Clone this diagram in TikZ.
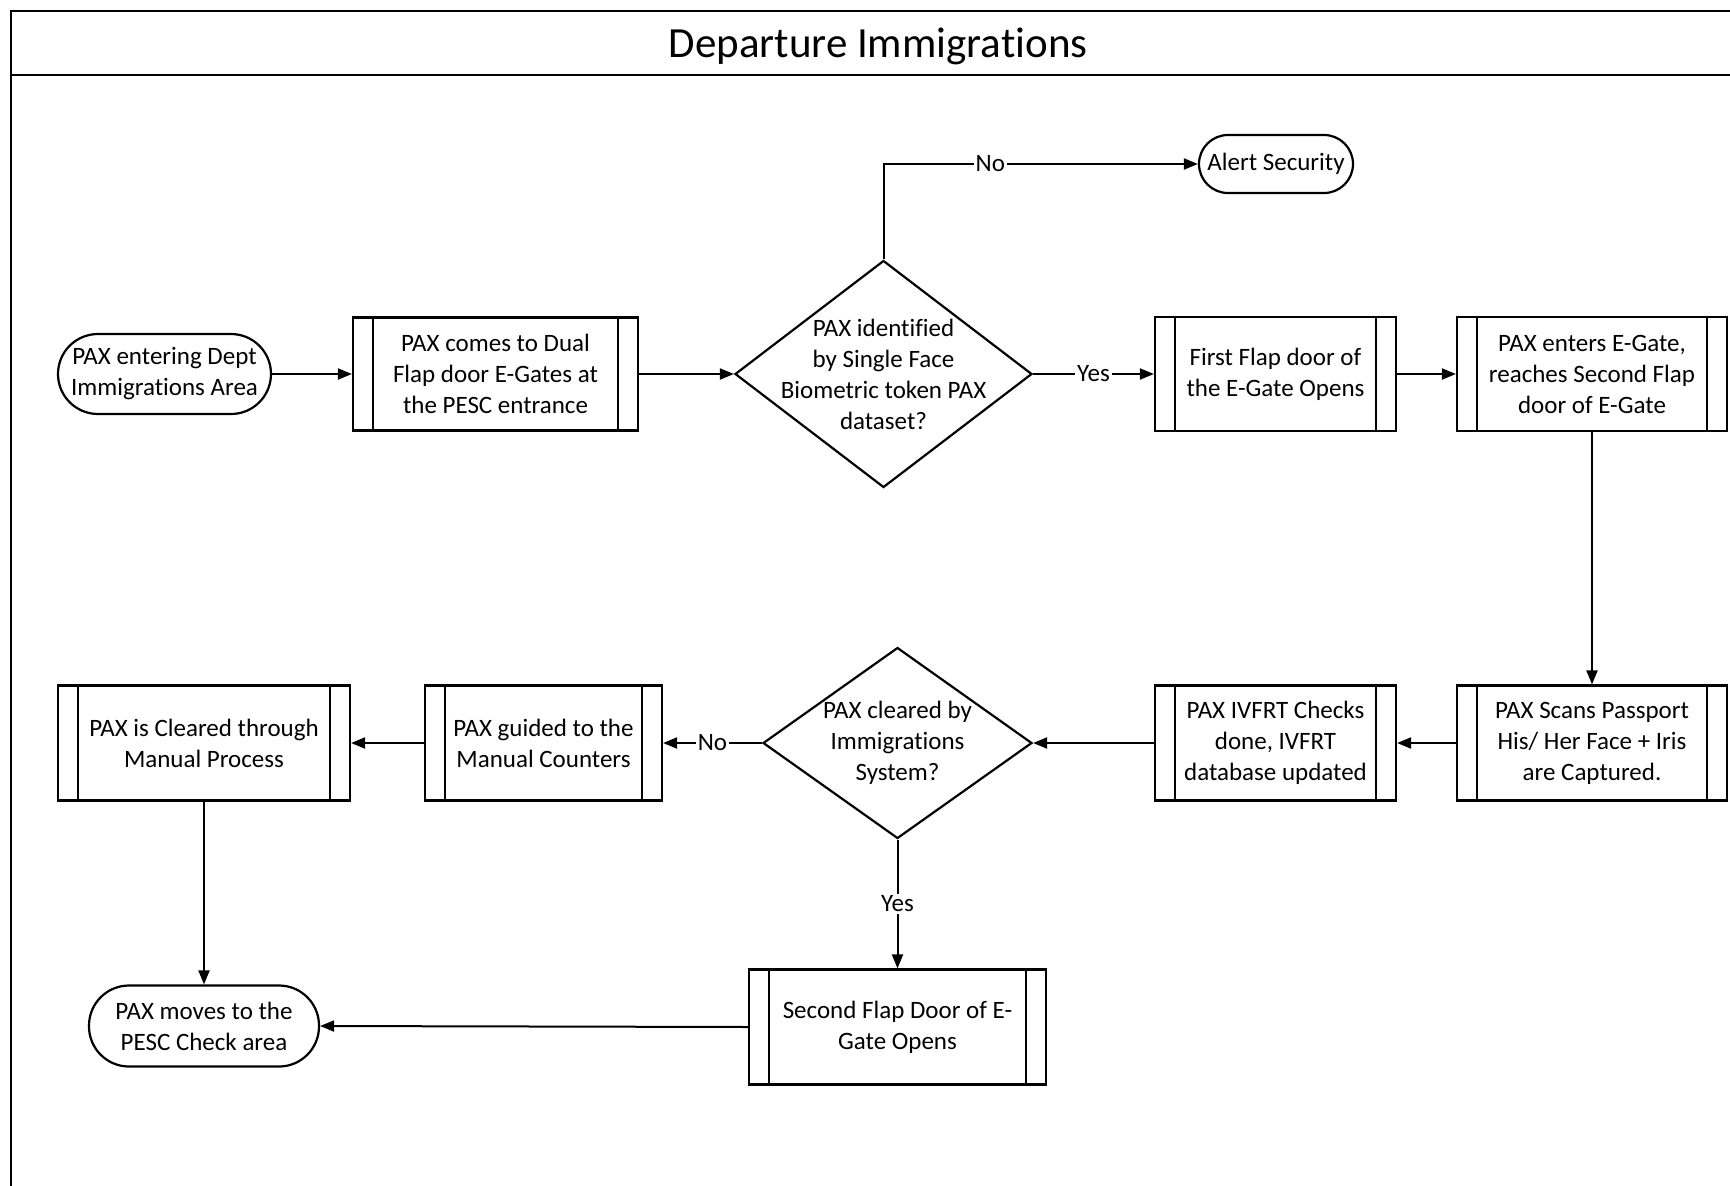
\documentclass[tikz,border=0pt]{standalone}
\usepackage{fontspec}
\setmainfont[RawFeature={-liga;-clig;-dlig;-calt}]{Carlito}
\usetikzlibrary{shapes.geometric,arrows.meta}

\tikzset{
  body/.style={font=\fontsize{25}{31}\selectfont, align=center},
  frameline/.style={line width=2.8pt},
  proc/.style={body, draw, line width=2.2pt, inner sep=0pt,
    path picture={
      \draw[line width=1.6pt]
        ([xshift=20pt]path picture bounding box.north west) -- ([xshift=20pt]path picture bounding box.south west)
        ([xshift=-20pt]path picture bounding box.north east) -- ([xshift=-20pt]path picture bounding box.south east);
    }},
  term/.style={body, draw, line width=2.2pt, inner sep=0pt},
  decide/.style={draw, diamond, line width=2.2pt, inner sep=0pt},
  flow/.style={line width=2pt, -{Triangle[length=14pt,width=11pt]}},
  tag/.style={body, fill=white, inner sep=2pt},
}

\begin{document}
\begin{tikzpicture}[x=1pt, y=-1pt]
  \useasboundingbox (0,0) rectangle (1730,1186);

  % outer frame and title band
  \draw[frameline] (11,1186) -- (11,11) -- (1730,11);
  \draw[frameline] (11,75) -- (1730,75);
  \node[font=\fontsize{43}{50}\selectfont] (title) at (878,46) {Departure Immigrations};

  % first row
  \node[term, minimum width=213pt, minimum height=80pt, rounded corners=40pt] (start) at (164.5,374) {PAX entering Dept\\Immigrations Area};
  \node[proc, minimum width=285pt, minimum height=113pt] (gates) at (495.5,374) {PAX comes to Dual\\Flap door E-Gates at\\the PESC entrance};
  \node[decide, minimum width=297pt, minimum height=227pt,
        label={[body]center:PAX identified\\by Single Face\\Biometric token PAX\\dataset?}] (ident) at (883.5,374) {};
  \node[term, minimum width=154pt, minimum height=58pt, rounded corners=29pt] (alert) at (1276,164) {Alert Security};
  \node[proc, minimum width=241pt, minimum height=114pt] (first) at (1275.5,374) {First Flap door of\\the E-Gate Opens};
  \node[proc, minimum width=270pt, minimum height=114pt] (enter) at (1592,374) {PAX enters E-Gate,\\reaches Second Flap\\door of E-Gate};

  % second row
  \node[proc, minimum width=270pt, minimum height=115pt] (scan) at (1592,743) {PAX Scans Passport\\His/ Her Face + Iris\\are Captured.};
  \node[proc, minimum width=241pt, minimum height=115pt] (ivfrt) at (1275.5,743) {PAX IVFRT Checks\\done, IVFRT\\database updated};
  \node[decide, minimum width=269pt, minimum height=191pt,
        label={[body]center:PAX cleared by\\Immigrations\\System?}] (cleared) at (897.5,743) {};
  \node[proc, minimum width=237pt, minimum height=115pt] (counters) at (543.5,743) {PAX guided to the\\Manual Counters};
  \node[proc, minimum width=292pt, minimum height=115pt] (manual) at (204,743) {PAX is Cleared through\\Manual Process};

  % third row
  \node[proc, minimum width=297pt, minimum height=115pt] (second) at (897.5,1027) {Second Flap Door of E-\\Gate Opens};
  \node[term, minimum width=230pt, minimum height=81pt, rounded corners=40pt] (finish) at (204,1026) {PAX moves to the\\PESC Check area};

  % connectors
  \draw[flow] (start.east) -- (gates.west);
  \draw[flow] (gates.east) -- (ident.west);
  \draw[flow] (ident.north) |- node[tag, pos=0.67] {No} (alert.west);
  \draw[flow] (ident.east) -- node[tag] {Yes} (first.west);
  \draw[flow] (first.east) -- (enter.west);
  \draw[flow] (enter.south) -- (scan.north);
  \draw[flow] (scan.west) -- (ivfrt.east);
  \draw[flow] (ivfrt.west) -- (cleared.east);
  \draw[flow] (cleared.west) -- node[tag] {No} (counters.east);
  \draw[flow] (counters.west) -- (manual.east);
  \draw[flow] (manual.south) -- (finish.north);
  \draw[flow] (cleared.south) -- node[tag] {Yes} (second.north);
  \draw[flow] (second.west) -- (finish.east);
\end{tikzpicture}
\end{document}
